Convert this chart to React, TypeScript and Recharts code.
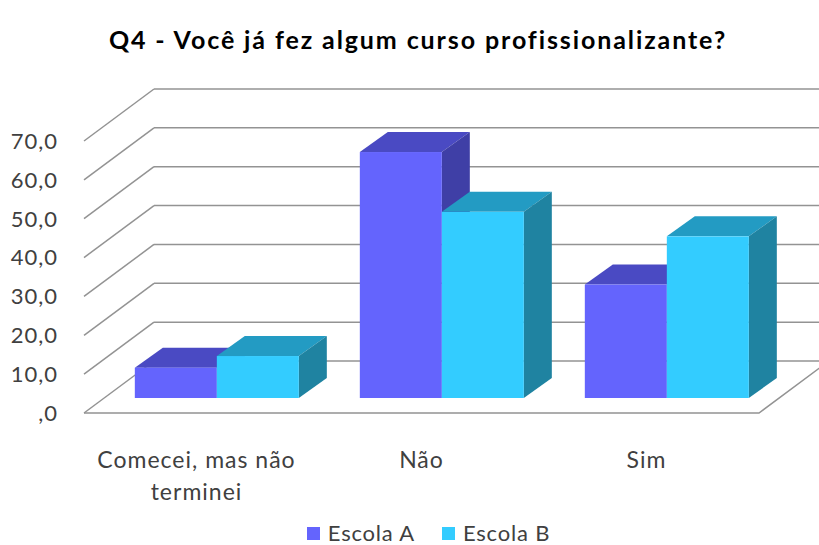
import { Bar, BarChart, CartesianGrid, Legend, XAxis, YAxis } from "recharts"

// values (percent)
const categories = ["Comecei, mas não terminei", "Não", "Sim"]
const escolaA = [7.8, 63.3, 29.2]
const escolaB = [10.8, 47.9, 41.6]
const yTicks = [0, 10, 20, 30, 40, 50, 60, 70]

const data = categories.map((name, i) => ({ name, a: escolaA[i], b: escolaB[i] }))

// fake 3D projection offsets, relative to the plane the bars stand in
const FRONT = { dx: -20, dy: 15 }
const BACK = { dx: 50, dy: -37 }
const BAR_DX = 28
const BAR_DY = -20

const FONT = "Lato, 'Noto Sans', sans-serif"
const GRID = "#939393"

const bar3d = (top: string, side: string) => (props: any) => {
  const { x, y, width, height, fill } = props
  if (height == null || width == null) return null
  const r = x + width
  const b = y + height
  return (
    <g>
      <polygon points={`${x},${y} ${r},${y} ${r + BAR_DX},${y + BAR_DY} ${x + BAR_DX},${y + BAR_DY}`} fill={top} />
      <polygon points={`${r},${y} ${r + BAR_DX},${y + BAR_DY} ${r + BAR_DX},${b + BAR_DY} ${r},${b}`} fill={side} />
      <rect x={x} y={y} width={width} height={height} fill={fill} />
    </g>
  )
}

// each horizontal grid line becomes: left diagonal + back wall line (+ floor for the 0 line)
const gridLine = (props: any) => {
  const { x1, x2, y1, y, height, index } = props
  const isFloor = Math.abs(y1 - (y + height)) < 1
  const fx = x1 + FRONT.dx
  const fy = y1 + FRONT.dy
  const bx = x1 + BACK.dx
  const by = y1 + BACK.dy
  return (
    <g key={`g-${index}`} stroke={GRID} strokeWidth={1.5} fill="none">
      <line x1={fx} y1={fy} x2={bx} y2={by} />
      <line x1={bx} y1={by} x2={x2 + BACK.dx} y2={by} />
      {isFloor && (
        <polyline points={`${fx},${fy} ${x2 + FRONT.dx},${fy} ${x2 + BACK.dx},${by}`} />
      )}
    </g>
  )
}

const fmt = (v: number) => (v === 0 ? ",0" : v.toFixed(1).replace(".", ","))

const YTick = (props: any) => {
  const { y, payload } = props
  return (
    <text x={58} y={y + FRONT.dy} dy="0.36em" textAnchor="end" fill="#404040" fontSize={22} letterSpacing={1} fontFamily={FONT}>
      {fmt(payload.value)}
    </text>
  )
}

const wrap = (s: string, max: number) => {
  const lines: string[] = []
  let cur = ""
  s.split(" ").forEach((w) => {
    if (cur && (cur + " " + w).length > max) {
      lines.push(cur)
      cur = w
    } else cur = cur ? cur + " " + w : w
  })
  if (cur) lines.push(cur)
  return lines
}

const XTick = (props: any) => {
  const { x, y, payload } = props
  const lines = wrap(payload.value, 16)
  return (
    <text x={x + FRONT.dx} y={y + 60} textAnchor="middle" fill="#404040" fontSize={23} letterSpacing={1} fontFamily={FONT}>
      {lines.map((l, i) => (
        <tspan key={i} x={x + FRONT.dx} dy={i === 0 ? "0.36em" : 32}>
          {l}
        </tspan>
      ))}
    </text>
  )
}

const LegendContent = (props: any) => {
  const items = props.payload || []
  return (
    <div
      style={{
        display: "flex",
        justifyContent: "center",
        gap: 27,
        paddingLeft: 38,
        fontFamily: FONT,
        fontSize: 22,
        letterSpacing: 0.8,
        lineHeight: "22px",
        color: "#404040",
      }}
    >
      {items.map((it: any) => (
        <div key={it.value} style={{ display: "flex", alignItems: "center", gap: 8 }}>
          <span style={{ width: 13, height: 13, background: it.color, display: "inline-block" }} />
          <span>{it.value}</span>
        </div>
      ))}
    </div>
  )
}

export default function App() {
  return (
    <div style={{ position: "absolute", left: 0, top: 0, width: 819, height: 545, background: "#fff", overflow: "hidden" }}>
      <div
        style={{
          position: "absolute",
          top: 23,
          left: 0,
          width: 836,
          textAlign: "center",
          fontFamily: FONT,
          fontWeight: 700,
          fontSize: 25,
          letterSpacing: 1.9,
          color: "#000",
          lineHeight: "32px",
        }}
      >
        Q4 - Você já fez algum curso profissionalizante?
      </div>
      <BarChart
        width={819}
        height={545}
        data={data}
        margin={{ top: 126, right: 40, bottom: 95, left: 44 }}
        barCategoryGap="13.7%"
        barGap={0}
      >
        <CartesianGrid vertical={false} horizontal={gridLine} />
        <XAxis dataKey="name" axisLine={false} tickLine={false} tickSize={0} height={30} interval={0} tick={<XTick />} />
        <YAxis domain={[0, 70]} ticks={yTicks} axisLine={false} tickLine={false} width={60} tick={<YTick />} />
        <Bar dataKey="a" name="Escola A" fill="#6464fd" shape={bar3d("#4a4ac3", "#3f3fa6")} isAnimationActive={false} />
        <Bar dataKey="b" name="Escola B" fill="#33ccff" shape={bar3d("#239bc3", "#1f83a1")} isAnimationActive={false} />
        <Legend content={<LegendContent />} wrapperStyle={{ position: "absolute", top: 522, left: 0, width: 819 }} />
      </BarChart>
    </div>
  )
}
